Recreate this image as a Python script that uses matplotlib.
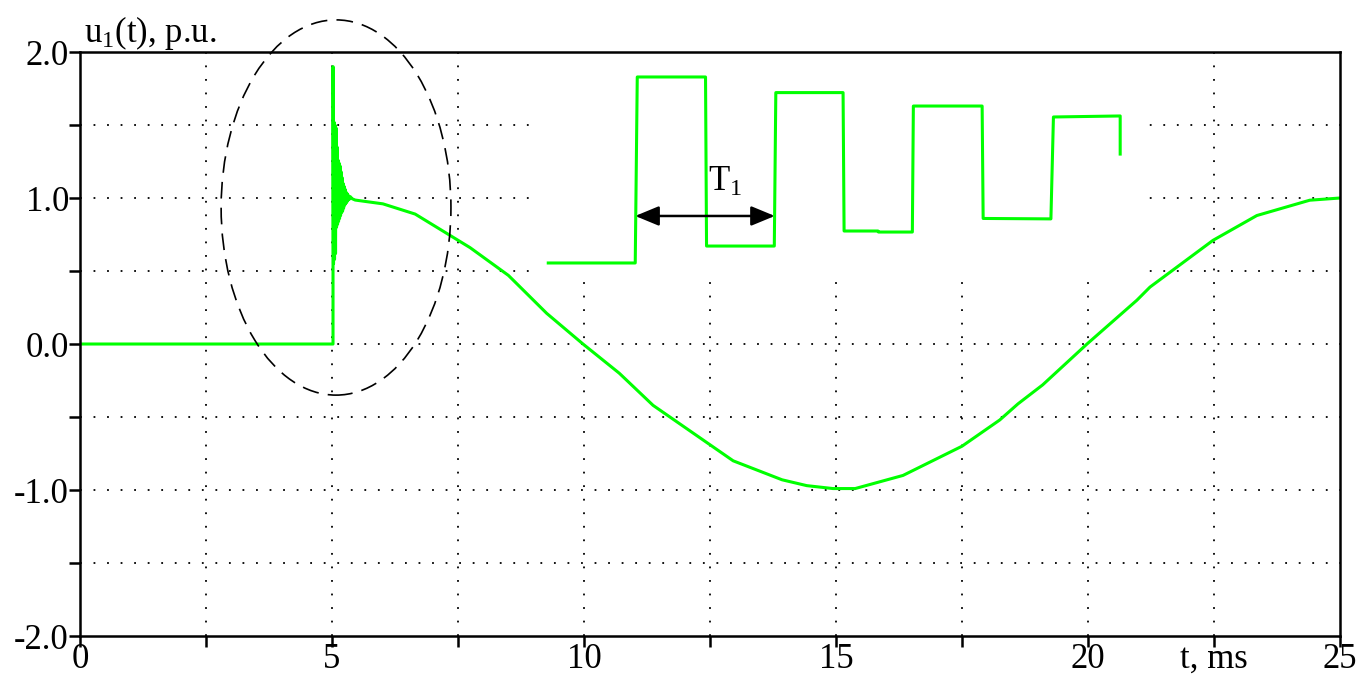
import numpy as np
import matplotlib
matplotlib.use('Agg')
import matplotlib.pyplot as plt
from matplotlib.patches import Ellipse

plt.rcParams['font.family'] = ['Liberation Serif', 'DejaVu Serif']
plt.rcParams['mathtext.fontset'] = 'custom'
plt.rcParams['mathtext.rm'] = 'Liberation Serif'
plt.rcParams['mathtext.it'] = 'Liberation Serif:italic'

# main trace u1(t), p.u. vs t, ms
t_pre = [0.0, 5.02]
u_pre = [0.0, 0.0]

# switching transient
t_osc = [5.02, 5.03, 5.04, 5.05, 5.06, 5.07, 5.08, 5.09, 5.10, 5.11, 5.12, 5.13,
         5.14, 5.15, 5.16, 5.17, 5.18, 5.19, 5.20, 5.21, 5.22, 5.23, 5.24, 5.25,
         5.26, 5.27, 5.28, 5.29, 5.30, 5.31, 5.32, 5.34, 5.36, 5.40]
u_osc = [1.90, 0.55, 1.52, 0.58, 1.50, 0.62, 1.48, 0.80, 1.35, 0.82, 1.26, 0.84,
         1.24, 0.86, 1.22, 0.88, 1.18, 0.90, 1.14, 0.91, 1.10, 0.93, 1.08, 0.95,
         1.06, 0.96, 1.04, 0.97, 1.03, 0.98, 1.02, 0.99, 1.01, 0.995]

t_wave = [5.46, 6.01, 6.65, 7.74, 8.50, 9.26, 9.98, 10.70, 11.37, 12.50, 12.96,
          13.93, 14.42, 14.94, 15.38, 16.33, 17.50, 18.25, 18.61, 19.10, 19.98,
          20.97, 21.23, 22.48, 23.35, 24.40, 25.00]
u_wave = [0.986, 0.96, 0.89, 0.66, 0.47, 0.21, 0.0, -0.20, -0.42, -0.69, -0.80,
          -0.93, -0.97, -0.99, -0.99, -0.90, -0.70, -0.52, -0.41, -0.28, 0.0,
          0.30, 0.39, 0.71, 0.88, 0.985, 1.0]

# zoomed view of the front (inset), t in us, u in p.u.
t_zoom = [0.26, 1.98, 2.02, 3.37, 3.39, 4.73, 4.76, 6.09, 6.11, 6.78, 6.79,
          7.46, 7.48, 8.84, 8.86, 10.20, 10.25, 11.57, 11.57]
u_zoom = [0.555, 0.555, 1.829, 1.829, 0.671, 0.671, 1.722, 1.722, 0.774, 0.774,
          0.767, 0.767, 1.630, 1.630, 0.860, 0.857, 1.555, 1.562, 1.301]

x_ticks = [0, 2.5, 5, 7.5, 10, 12.5, 15, 17.5, 20, 22.5, 25]
x_labels = ['0', '', '5', '', '10', '', '15', '', '20', 't, ms', '25']
y_ticks = [-2.0, -1.5, -1.0, -0.5, 0.0, 0.5, 1.0, 1.5, 2.0]
y_labels = ['-2.0', '', '-1.0', '', '0.0', '', '1.0', '', '2.0']

green = '#00ff00'

fig = plt.figure(figsize=(13.7, 6.79), dpi=100)
ax = fig.add_axes([0.0584, 0.0633, 0.9197, 0.8601])

t_all = t_pre + t_osc + t_wave
u_all = u_pre + u_osc + u_wave
ax.plot(t_all, u_all, color=green, lw=2.2, zorder=3)

ax.set_xlim(0, 25)
ax.set_ylim(-2, 2)
ax.set_xticks(x_ticks)
ax.set_xticklabels(x_labels)
ax.set_yticks(y_ticks)
ax.set_yticklabels(y_labels)
ax.tick_params(axis='both', direction='out', length=8, width=1.8,
               labelsize=25, color='black')
ax.tick_params(axis='x', pad=-3)
ax.tick_params(axis='y', pad=0)

for s in ax.spines.values():
    s.set_linewidth(1.8)
    s.set_color('black')
    s.set_zorder(6)

# dotted grid, without the frame lines
for x in x_ticks[1:-1]:
    ax.axvline(x, color='black', lw=1.3, ls=(0, (1, 6.5)), zorder=1)
for y in y_ticks[1:-1]:
    ax.axhline(y, color='black', lw=1.3, ls=(0, (1, 6.5)), zorder=1)

ax.text(0.08, 2.07, 'u$_\\mathrm{1}$(t), p.u.', fontsize=25, va='baseline',
        ha='left', clip_on=False)

# dashed ellipse round the switching moment
ell = Ellipse((5.08, 0.935), width=4.56, height=2.57, fill=False,
              edgecolor='black', lw=1.2, ls=(0, (10, 5.5)), clip_on=False, zorder=4)
ax.add_patch(ell)

# inset with the front
axin = ax.inset_axes([9.03, 0.44, 12.04, 1.55], transform=ax.transData, zorder=5)
axin.set_facecolor('white')
axin.plot(t_zoom, u_zoom, color=green, lw=2.2)
axin.set_xlim(0, 12)
axin.set_ylim(0.44, 1.99)
axin.set_xticks([])
axin.set_yticks([])
for s in axin.spines.values():
    s.set_visible(False)

axin.annotate('', xy=(1.98, 0.877), xytext=(4.74, 0.877),
              arrowprops=dict(arrowstyle='<|-|>,head_length=1.45,head_width=0.6',
                              color='black', lw=1.8, mutation_scale=10,
                              shrinkA=0, shrinkB=0))
axin.text(3.75, 1.05, 'T$_\\mathrm{1}$', fontsize=25, ha='center', va='baseline')

fig.savefig('out.png', dpi=100)
